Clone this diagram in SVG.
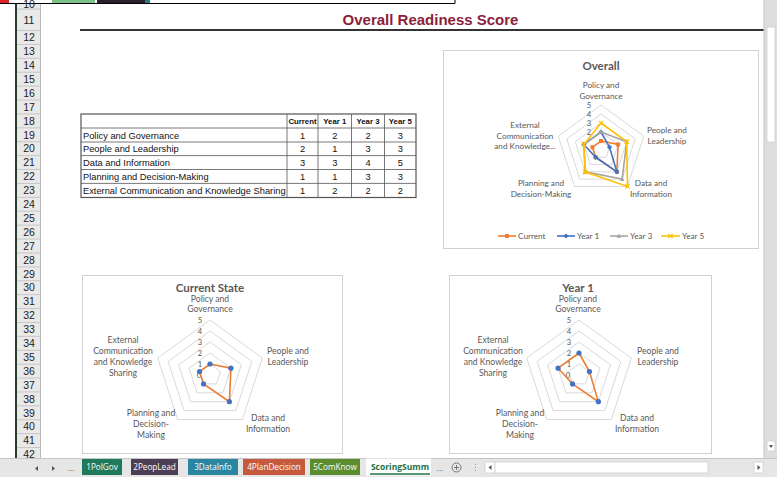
<svg xmlns="http://www.w3.org/2000/svg" xmlns:xlink="http://www.w3.org/1999/xlink" width="777" height="477" viewBox="0 0 777 477">
<style>
.rh{font-family:"Liberation Sans",Arial,sans-serif;font-size:10.5px;fill:#222;text-anchor:middle}
.tb{font-family:"Liberation Sans",Arial,sans-serif;font-size:9.3px;fill:#111}
.tn{font-family:"Liberation Sans",Arial,sans-serif;font-size:9.3px;fill:#111;text-anchor:middle}
.th{font-family:"Liberation Sans",Arial,sans-serif;font-size:7.8px;font-weight:bold;fill:#111;text-anchor:middle}
.cl{font-family:Lato,"Open Sans",sans-serif;font-size:8.6px;fill:#595959;text-anchor:middle}
.co{font-family:Lato,"Open Sans",sans-serif;font-size:8.2px;fill:#595959;text-anchor:middle}
.cv{font-family:Lato,"Open Sans",sans-serif;font-size:7.6px;fill:#595959;text-anchor:middle}
.ct{font-family:Lato,"Open Sans",sans-serif;font-size:11.5px;font-weight:bold;fill:#595959;text-anchor:middle}
.lg{font-family:Lato,"Open Sans",sans-serif;font-size:8.2px;fill:#595959}
.ring{fill:none;stroke:#d9d9d9;stroke-width:1}
.box{fill:#fff;stroke:#d0d0d0;stroke-width:1}
.tab{font-family:"Open Sans",sans-serif;font-size:8.2px;fill:#fff;text-anchor:middle}
</style>
<defs>
<g id="ringsS">
<polygon class="ring" points="0,-11 10.46,-3.4 6.47,8.9 -6.47,8.9 -10.46,-3.4"/>
<polygon class="ring" points="0,-22 20.92,-6.8 12.93,17.8 -12.93,17.8 -20.92,-6.8"/>
<polygon class="ring" points="0,-33 31.39,-10.2 19.4,26.7 -19.4,26.7 -31.39,-10.2"/>
<polygon class="ring" points="0,-44 41.85,-13.6 25.86,35.6 -25.86,35.6 -41.85,-13.6"/>
<polygon class="ring" points="0,-55 52.31,-17 32.33,44.5 -32.33,44.5 -52.31,-17"/>
</g>
<rect id="mSq" x="-2" y="-2" width="4" height="4" fill="#ED7D31"/>
<polygon id="mDia" points="0,-2.6 2.6,0 0,2.6 -2.6,0" fill="#4472C4"/>
<polygon id="mTri" points="0,-2.6 2.4,1.8 -2.4,1.8" fill="#A5A5A5"/>
<path id="mX" d="M-2.2,-2.2L2.2,2.2M-2.2,2.2L2.2,-2.2" stroke="#FFC000" stroke-width="1.2"/>
<circle id="mDot" r="2.6" fill="#4472C4"/>
</defs>

<rect x="0" y="0" width="777" height="477" fill="#fff"/>

<!-- top strip -->
<g id="topstrip">
<rect x="0" y="0" width="9" height="3" fill="#e02424"/>
<rect x="52" y="0" width="43" height="3" fill="#7cc08a"/>
<rect x="97" y="0" width="48" height="3" fill="#2b1f2b"/>
<rect x="145" y="0" width="5" height="3" fill="#2a7a8a"/>
<path d="M0,3.5H455V0" fill="none" stroke="#000" stroke-width="1"/>
</g>

<!-- row headers -->
<g id="rowheaders">
<rect x="17" y="4" width="23" height="455" fill="#e9e9e9"/>
<line x1="16" y1="4" x2="16" y2="459" stroke="#2a3a2a" stroke-width="2"/>
<line x1="40.5" y1="4" x2="40.5" y2="459" stroke="#b8b8b8" stroke-width="1"/>
<path d="M17,9H40M17,30.55H40M17,44.45H40M17,58.35H40M17,72.25H40M17,86.15H40M17,100.05H40M17,113.95H40M17,127.85H40M17,141.75H40M17,155.65H40M17,169.55H40M17,183.45H40M17,197.35H40M17,211.25H40M17,225.15H40M17,239.05H40M17,252.95H40M17,266.85H40M17,280.75H40M17,294.65H40M17,308.55H40M17,322.45H40M17,336.35H40M17,350.25H40M17,364.15H40M17,378.05H40M17,391.95H40M17,405.85H40M17,419.75H40M17,433.65H40M17,447.55H40" stroke="#c6c6c6" stroke-width="1"/>
<text class="rh" x="29" y="7.5">10</text>
<text class="rh" x="29" y="24">11</text>
<text class="rh" x="29" y="41.2">12</text>
<text class="rh" x="29" y="55.1">13</text>
<text class="rh" x="29" y="69">14</text>
<text class="rh" x="29" y="82.9">15</text>
<text class="rh" x="29" y="96.8">16</text>
<text class="rh" x="29" y="110.7">17</text>
<text class="rh" x="29" y="124.6">18</text>
<text class="rh" x="29" y="138.5">19</text>
<text class="rh" x="29" y="152.4">20</text>
<text class="rh" x="29" y="166.3">21</text>
<text class="rh" x="29" y="180.2">22</text>
<text class="rh" x="29" y="194.1">23</text>
<text class="rh" x="29" y="208">24</text>
<text class="rh" x="29" y="221.9">25</text>
<text class="rh" x="29" y="235.8">26</text>
<text class="rh" x="29" y="249.7">27</text>
<text class="rh" x="29" y="263.6">28</text>
<text class="rh" x="29" y="277.5">29</text>
<text class="rh" x="29" y="291.4">30</text>
<text class="rh" x="29" y="305.3">31</text>
<text class="rh" x="29" y="319.2">32</text>
<text class="rh" x="29" y="333.1">33</text>
<text class="rh" x="29" y="347">34</text>
<text class="rh" x="29" y="360.9">35</text>
<text class="rh" x="29" y="374.8">36</text>
<text class="rh" x="29" y="388.7">37</text>
<text class="rh" x="29" y="402.6">38</text>
<text class="rh" x="29" y="416.5">39</text>
<text class="rh" x="29" y="430.4">40</text>
<text class="rh" x="29" y="444.3">41</text>
<text class="rh" x="29" y="458">42</text>
</g>

<!-- title -->
<g id="title">
<text x="430.5" y="25" font-family="Liberation Sans, Arial, sans-serif" font-size="15" font-weight="bold" fill="#8a1f3a" text-anchor="middle">Overall Readiness Score</text>
<line x1="80" y1="30" x2="764" y2="30" stroke="#333" stroke-width="2"/>
</g>

<!-- table -->
<g id="table">
<rect x="81" y="114" width="335" height="83.5" fill="#fff" stroke="#555" stroke-width="1.2"/>
<path d="M81,128H416M81,142H416M81,155.6H416M81,169.5H416M81,183.4H416M287,114V197.5M318,114V197.5M351.5,114V197.5M384.5,114V197.5" stroke="#555" stroke-width="0.8" fill="none"/>
<text class="th" x="302.5" y="124">Current</text>
<text class="th" x="334.8" y="124">Year 1</text>
<text class="th" x="368" y="124">Year 3</text>
<text class="th" x="400.3" y="124">Year 5</text>
<text class="tb" x="83" y="138.5">Policy and Governance</text>
<text class="tb" x="83" y="152.4">People and Leadership</text>
<text class="tb" x="83" y="166.3">Data and Information</text>
<text class="tb" x="83" y="180.2">Planning and Decision-Making</text>
<text class="tb" x="83" y="194.1">External Communication and Knowledge Sharing</text>
<text class="tn" x="302.5" y="138.5">1</text><text class="tn" x="334.8" y="138.5">2</text><text class="tn" x="368" y="138.5">2</text><text class="tn" x="400.3" y="138.5">3</text>
<text class="tn" x="302.5" y="152.4">2</text><text class="tn" x="334.8" y="152.4">1</text><text class="tn" x="368" y="152.4">3</text><text class="tn" x="400.3" y="152.4">3</text>
<text class="tn" x="302.5" y="166.3">3</text><text class="tn" x="334.8" y="166.3">3</text><text class="tn" x="368" y="166.3">4</text><text class="tn" x="400.3" y="166.3">5</text>
<text class="tn" x="302.5" y="180.2">1</text><text class="tn" x="334.8" y="180.2">1</text><text class="tn" x="368" y="180.2">3</text><text class="tn" x="400.3" y="180.2">3</text>
<text class="tn" x="302.5" y="194.1">1</text><text class="tn" x="334.8" y="194.1">2</text><text class="tn" x="368" y="194.1">2</text><text class="tn" x="400.3" y="194.1">2</text>
</g>

<!-- Overall chart -->
<g id="chart-overall">
<rect class="box" x="443.5" y="50.5" width="315" height="198"/>
<text class="ct" x="601" y="70">Overall</text>
<g transform="translate(601,150)">
<polygon class="ring" points="0,-9 8.56,-2.78 5.29,7.28 -5.29,7.28 -8.56,-2.78"/>
<polygon class="ring" points="0,-18 17.12,-5.56 10.58,14.56 -10.58,14.56 -17.12,-5.56"/>
<polygon class="ring" points="0,-27 25.68,-8.34 15.87,21.84 -15.87,21.84 -25.68,-8.34"/>
<polygon class="ring" points="0,-36 34.24,-11.12 21.16,29.12 -21.16,29.12 -34.24,-11.12"/>
<polygon class="ring" points="0,-45 42.8,-13.9 26.45,36.41 -26.45,36.41 -42.8,-13.9"/>
<text class="cv" x="-12" y="-42.3">5</text>
<text class="cv" x="-12" y="-33.3">4</text>
<text class="cv" x="-12" y="-24.3">3</text>
<text class="cv" x="-12" y="-15.3">2</text>
<polygon points="0,-9 17.12,-5.56 15.87,21.84 -5.29,7.28 -8.56,-2.78" fill="none" stroke="#ED7D31" stroke-width="1.6"/>
<use href="#mSq" x="0" y="-9"/><use href="#mSq" x="17.12" y="-5.56"/><use href="#mSq" x="15.87" y="21.84"/><use href="#mSq" x="-5.29" y="7.28"/><use href="#mSq" x="-8.56" y="-2.78"/>
<polygon points="0,-18 8.56,-2.78 15.87,21.84 -5.29,7.28 -17.12,-5.56" fill="none" stroke="#4472C4" stroke-width="1.6"/>
<use href="#mDia" x="0" y="-18"/><use href="#mDia" x="8.56" y="-2.78"/><use href="#mDia" x="15.87" y="21.84"/><use href="#mDia" x="-5.29" y="7.28"/><use href="#mDia" x="-17.12" y="-5.56"/>
<polygon points="0,-18 25.68,-8.34 21.16,29.12 -15.87,21.84 -17.12,-5.56" fill="none" stroke="#A5A5A5" stroke-width="1.6"/>
<use href="#mTri" x="0" y="-18"/><use href="#mTri" x="25.68" y="-8.34"/><use href="#mTri" x="21.16" y="29.12"/><use href="#mTri" x="-15.87" y="21.84"/><use href="#mTri" x="-17.12" y="-5.56"/>
<polygon points="0,-27 25.68,-8.34 26.45,36.41 -15.87,21.84 -17.12,-5.56" fill="none" stroke="#FFC000" stroke-width="1.6"/>
<use href="#mX" x="0" y="-27"/><use href="#mX" x="25.68" y="-8.34"/><use href="#mX" x="26.45" y="36.41"/><use href="#mX" x="-15.87" y="21.84"/><use href="#mX" x="-17.12" y="-5.56"/>
</g>
<text class="co" x="601" y="88">Policy and</text>
<text class="co" x="601" y="99">Governance</text>
<text class="co" x="667" y="133">People and</text>
<text class="co" x="667" y="144">Leadership</text>
<text class="co" x="651" y="186">Data and</text>
<text class="co" x="651" y="197">Information</text>
<text class="co" x="541" y="186">Planning and</text>
<text class="co" x="541" y="197">Decision-Making</text>
<text class="co" x="525" y="128">External</text>
<text class="co" x="525" y="138.5">Communication</text>
<text class="co" x="525" y="149">and Knowledge...</text>
<line x1="498" y1="236" x2="516" y2="236" stroke="#ED7D31" stroke-width="1.6"/><use href="#mSq" x="507" y="236"/>
<text class="lg" x="518" y="239">Current</text>
<line x1="557" y1="236" x2="575" y2="236" stroke="#4472C4" stroke-width="1.6"/><use href="#mDia" x="566" y="236"/>
<text class="lg" x="577" y="239">Year 1</text>
<line x1="610" y1="236" x2="628" y2="236" stroke="#A5A5A5" stroke-width="1.6"/><use href="#mTri" x="619" y="236"/>
<text class="lg" x="630" y="239">Year 3</text>
<line x1="661" y1="236" x2="680" y2="236" stroke="#FFC000" stroke-width="1.6"/><use href="#mX" x="670.5" y="236"/>
<text class="lg" x="682" y="239">Year 5</text>
</g>

<!-- Current State chart -->
<g id="chart-current">
<rect class="box" x="82.5" y="275.5" width="260" height="178"/>
<text class="ct" x="210" y="291.5">Current State</text>
<g transform="translate(210,375)">
<use href="#ringsS"/>
<text class="cv" x="-10" y="-52.3">5</text>
<text class="cv" x="-10" y="-41.3">4</text>
<text class="cv" x="-10" y="-30.3">3</text>
<text class="cv" x="-10" y="-19.3">2</text>
<text class="cv" x="-10" y="-8.3">1</text>
<text class="cv" x="-11" y="2.7">0</text>
<polygon points="0,-11 20.92,-6.8 19.4,26.7 -6.47,8.9 -10.46,-3.4" fill="none" stroke="#ED7D31" stroke-width="1.6"/>
<use href="#mDot" x="0" y="-11"/><use href="#mDot" x="20.92" y="-6.8"/><use href="#mDot" x="19.4" y="26.7"/><use href="#mDot" x="-6.47" y="8.9"/><use href="#mDot" x="-10.46" y="-3.4"/>
</g>
<text class="cl" x="210" y="301.5">Policy and</text>
<text class="cl" x="210" y="312">Governance</text>
<text class="cl" x="288" y="354">People and</text>
<text class="cl" x="288" y="365">Leadership</text>
<text class="cl" x="268" y="421">Data and</text>
<text class="cl" x="268" y="432">Information</text>
<text class="cl" x="151" y="416">Planning and</text>
<text class="cl" x="151" y="427">Decision-</text>
<text class="cl" x="151" y="438">Making</text>
<text class="cl" x="123" y="343">External</text>
<text class="cl" x="123" y="354">Communication</text>
<text class="cl" x="123" y="365">and Knowledge</text>
<text class="cl" x="123" y="376">Sharing</text>
</g>

<!-- Year 1 chart -->
<g id="chart-year1">
<rect class="box" x="449.5" y="275.5" width="262" height="178"/>
<text class="ct" x="578" y="291.5">Year 1</text>
<g transform="translate(579,375)">
<use href="#ringsS"/>
<text class="cv" x="-10" y="-52.3">5</text>
<text class="cv" x="-10" y="-41.3">4</text>
<text class="cv" x="-10" y="-30.3">3</text>
<text class="cv" x="-10" y="-19.3">2</text>
<text class="cv" x="-10" y="-8.3">1</text>
<text class="cv" x="-11" y="2.7">0</text>
<polygon points="0,-22 10.46,-3.4 19.4,26.7 -6.47,8.9 -20.92,-6.8" fill="none" stroke="#ED7D31" stroke-width="1.6"/>
<use href="#mDot" x="0" y="-22"/><use href="#mDot" x="10.46" y="-3.4"/><use href="#mDot" x="19.4" y="26.7"/><use href="#mDot" x="-6.47" y="8.9"/><use href="#mDot" x="-20.92" y="-6.8"/>
</g>
<text class="cl" x="578" y="301.5">Policy and</text>
<text class="cl" x="578" y="312">Governance</text>
<text class="cl" x="658" y="354">People and</text>
<text class="cl" x="658" y="365">Leadership</text>
<text class="cl" x="637" y="421">Data and</text>
<text class="cl" x="637" y="432">Information</text>
<text class="cl" x="520" y="416">Planning and</text>
<text class="cl" x="520" y="427">Decision-</text>
<text class="cl" x="520" y="438">Making</text>
<text class="cl" x="493" y="343">External</text>
<text class="cl" x="493" y="354">Communication</text>
<text class="cl" x="493" y="365">and Knowledge</text>
<text class="cl" x="493" y="376">Sharing</text>
</g>

<!-- right scrollbar -->
<g id="vscroll">
<rect x="764" y="0" width="13" height="459" fill="#dedede"/>
<line x1="764" y1="0" x2="764" y2="459" stroke="#c4c4c4"/>
<rect x="767" y="27" width="8" height="115" fill="#fff" stroke="#cfcfcf" stroke-width="0.8"/>
<rect x="767" y="441" width="8" height="10" fill="#fff" stroke="#cfcfcf" stroke-width="0.8"/>
<polygon points="769,445 773,445 771,448" fill="#555"/>
</g>

<!-- bottom bar -->
<g id="sheet-tabs">
<rect x="0" y="458.5" width="777" height="18.5" fill="#e6e6e6"/>
<line x1="0" y1="458.5" x2="777" y2="458.5" stroke="#c6c6c6"/>
<polygon points="38,466 35,468.5 38,471" fill="#555"/>
<polygon points="52,466 55,468.5 52,471" fill="#555"/>
<text x="71" y="471" font-family="Open Sans, sans-serif" font-size="8" fill="#555" text-anchor="middle">...</text>
<rect x="82" y="459" width="40" height="16" fill="#1f7a5c"/>
<text class="tab" x="102" y="470">1PolGov</text>
<rect x="131" y="459" width="47" height="16" fill="#4d3d55"/>
<text class="tab" x="154.5" y="470">2PeopLead</text>
<rect x="188" y="459" width="50" height="16" fill="#2a86a0"/>
<text class="tab" x="213" y="470">3DataInfo</text>
<rect x="243" y="459" width="62" height="16" fill="#c55a3c"/>
<text class="tab" x="274" y="470">4PlanDecision</text>
<rect x="310" y="459" width="50" height="16" fill="#5b8c2e"/>
<text class="tab" x="335" y="470">5ComKnow</text>
<rect x="366" y="458.5" width="65" height="17" fill="#fff"/>
<text x="400" y="470" font-family="Open Sans, sans-serif" font-size="8.5" font-weight="bold" fill="#217346" text-anchor="middle">ScoringSumm</text>
<line x1="370" y1="474" x2="430" y2="474" stroke="#217346" stroke-width="1.5"/>
<text x="440" y="471" font-family="Open Sans, sans-serif" font-size="8" fill="#555" text-anchor="middle">...</text>
<circle cx="456.5" cy="467.5" r="4.5" fill="none" stroke="#777" stroke-width="1"/>
<path d="M454,467.5H459M456.5,465V470" stroke="#777" stroke-width="1"/>
<path d="M475.5,464V465M475.5,467V468M475.5,470V471" stroke="#999" stroke-width="1"/>
<rect x="485" y="462" width="10" height="11" fill="#fff" stroke="#cfcfcf" stroke-width="0.8"/>
<polygon points="491.5,465 488.5,467.5 491.5,470" fill="#555"/>
<rect x="495" y="462" width="213" height="11" fill="#fff" stroke="#cfcfcf" stroke-width="0.8"/>
<rect x="754" y="462" width="9" height="11" fill="#fff" stroke="#cfcfcf" stroke-width="0.8"/>
<polygon points="757.5,465 760.5,467.5 757.5,470" fill="#555"/>
</g>
</svg>
